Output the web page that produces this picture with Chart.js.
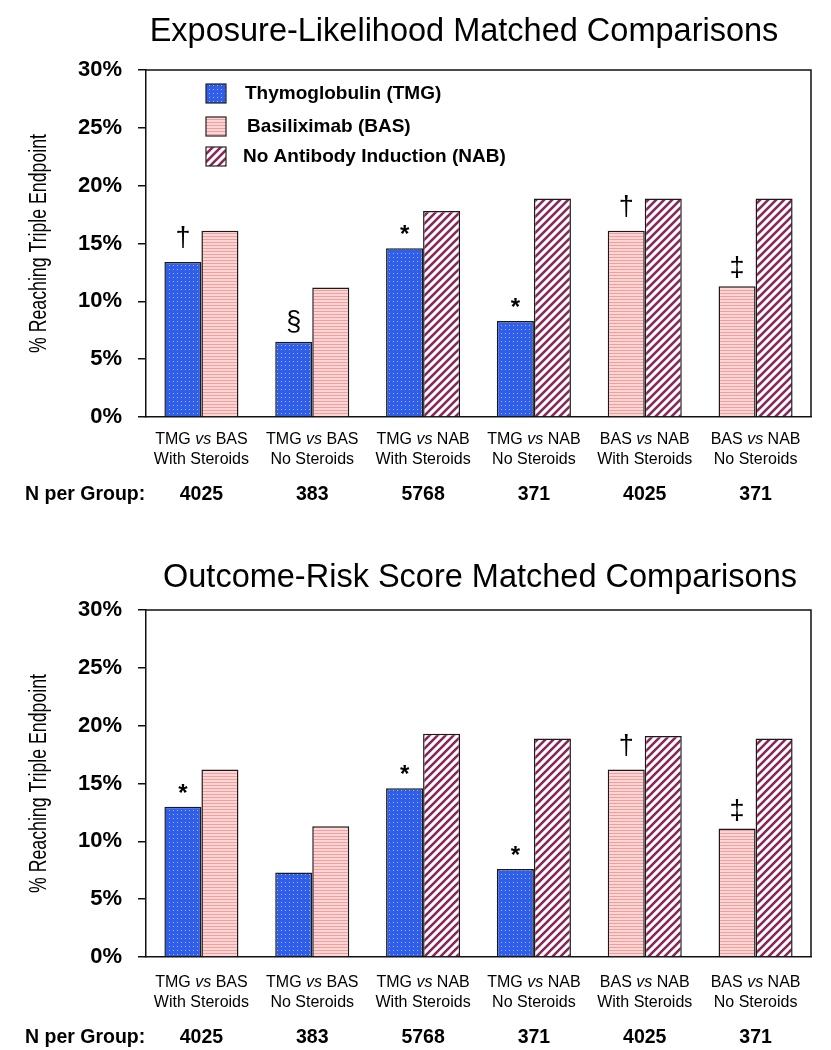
<!DOCTYPE html>
<html>
<head>
<meta charset="utf-8">
<script src="https://cdn.jsdelivr.net/npm/chart.js@4"></script>
<style>
  body { margin: 0; background: #fff; }
  .panel { position: relative; width: 831px; height: 525px; }
</style>
</head>
<body>
<div class="panel"><canvas id="chartTop" width="831" height="525"></canvas></div>
<div class="panel"><canvas id="chartBottom" width="831" height="525"></canvas></div>
<script>
// ---- data ----
const compLeft = ['TMG', 'TMG', 'TMG', 'TMG', 'BAS', 'BAS'];
const compRight = ['BAS', 'BAS', 'NAB', 'NAB', 'NAB', 'NAB'];
const steroidLabels = ['With Steroids', 'No Steroids', 'With Steroids', 'No Steroids', 'With Steroids', 'No Steroids'];
const nPerGroup = ['4025', '383', '5768', '371', '4025', '371'];
const seriesNames = ['Thymoglobulin (TMG)', 'Basiliximab (BAS)', 'No Antibody Induction (NAB)'];
const yTicks = [0, 5, 10, 15, 20, 25, 30];

// Exposure-likelihood matched (% reaching triple endpoint)
const expTMG = [13.4, 6.5, 14.6, 8.3, null, null];
const expBAS = [16.1, 11.2, null, null, 16.1, 11.3];
const expNAB = [null, null, 17.8, 18.9, 18.9, 18.9];
const expMarksTMG = ['\u2020', '\u00a7', '*', '*', '', ''];
const expMarksBAS = ['', '', '', '', '\u2020', '\u2021'];

// Outcome-risk score matched
const outTMG = [13.0, 7.3, 14.6, 7.6, null, null];
const outBAS = [16.2, 11.3, null, null, 16.2, 11.1];
const outNAB = [null, null, 19.3, 18.9, 19.1, 18.9];
const outMarksTMG = ['*', '', '*', '*', '', ''];
const outMarksBAS = ['', '', '', '', '\u2020', '\u2021'];

const FONT = '"Liberation Sans", Arial, sans-serif';

// ---- fill patterns ----
function makePattern(w, h, draw) {
  const c = document.createElement('canvas');
  c.width = w; c.height = h;
  const g = c.getContext('2d');
  draw(g);
  return g.createPattern(c, 'repeat');
}
const dotsBlue = makePattern(4, 4, g => {
  g.fillStyle = '#2f5fe8'; g.fillRect(0, 0, 4, 4);
  g.fillStyle = '#9fb8ff'; g.fillRect(1, 1, 1, 1);
});
const stripesPink = makePattern(4, 3, g => {
  g.fillStyle = '#ffd6d6'; g.fillRect(0, 0, 4, 3);
  g.fillStyle = '#f59c9c'; g.fillRect(0, 2, 4, 1);
});
const hatchMaroon = makePattern(8, 8, g => {
  g.fillStyle = '#ffffff'; g.fillRect(0, 0, 8, 8);
  g.strokeStyle = '#8a2657'; g.lineWidth = 2.6;
  g.beginPath();
  g.moveTo(-2, 10); g.lineTo(10, -2);
  g.moveTo(-2, 2); g.lineTo(2, -2);
  g.moveTo(6, 10); g.lineTo(10, 6);
  g.stroke();
});
const fills = [dotsBlue, stripesPink, hatchMaroon];

// ---- plugins ----
const framePlugin = {
  id: 'frame',
  afterDraw(chart) {
    const { ctx, chartArea: a } = chart;
    ctx.save();
    ctx.strokeStyle = '#111';
    ctx.lineWidth = 1.5;
    ctx.beginPath();
    ctx.moveTo(a.left, a.top); ctx.lineTo(a.right, a.top); ctx.lineTo(a.right, a.bottom);
    ctx.stroke();
    // y axis title, condensed like the original
    ctx.fillStyle = '#000';
    ctx.font = '23px ' + FONT;
    ctx.textAlign = 'center';
    ctx.textBaseline = 'middle';
    ctx.translate(40, (a.top + a.bottom) / 2);
    ctx.rotate(-Math.PI / 2);
    ctx.scale(0.77, 1);
    ctx.fillText('% Reaching Triple Endpoint', 0, 0);
    ctx.restore();
  }
};

const gaps = { '\u2020': 16, '\u2021': 10, '\u00a7': 12, '*': 6 };
const marksPlugin = {
  id: 'marks',
  afterDatasetsDraw(chart, args, opts) {
    const ctx = chart.ctx;
    ctx.save();
    ctx.fillStyle = '#000';
    ctx.textAlign = 'center';
    ctx.textBaseline = 'alphabetic';
    opts.sets.forEach(set => {
      const meta = chart.getDatasetMeta(set.dataset);
      set.marks.forEach((m, i) => {
        if (!m) return;
        const bar = meta.data[i];
        ctx.font = (m === '*' ? 'bold 24px ' : '27px ') + FONT;
        ctx.fillText(m, bar.x, bar.y - gaps[m]);
      });
    });
    ctx.restore();
  }
};

const labelsPlugin = {
  id: 'groupLabels',
  afterDraw(chart, args, opts) {
    const { ctx, chartArea: a } = chart;
    const x = chart.scales.x;
    const base = a.bottom + opts.shift;
    ctx.save();
    ctx.fillStyle = '#000';
    ctx.textBaseline = 'middle';
    // title
    ctx.font = '32.5px ' + FONT;
    ctx.textAlign = 'center';
    ctx.fillText(opts.title, opts.titleX, opts.titleY);
    compLeft.forEach((left, i) => {
      const cx = x.getPixelForValue(i);
      const y1 = base + 23, y2 = base + 43;
      const reg = '16px ' + FONT, ita = 'italic 16px ' + FONT;
      ctx.font = reg;
      const wl = ctx.measureText(left + ' ').width;
      const wr = ctx.measureText(' ' + compRight[i]).width;
      ctx.font = ita;
      const wv = ctx.measureText('vs').width;
      let sx = cx - (wl + wv + wr) / 2;
      ctx.textAlign = 'left';
      ctx.font = reg; ctx.fillText(left + ' ', sx, y1);
      ctx.font = ita; ctx.fillText('vs', sx + wl, y1);
      ctx.font = reg; ctx.fillText(' ' + compRight[i], sx + wl + wv, y1);
      ctx.textAlign = 'center';
      ctx.fillText(steroidLabels[i], cx, y2);
      ctx.font = 'bold 19.5px ' + FONT;
      ctx.fillText(nPerGroup[i], cx, base + 78);
    });
    ctx.textAlign = 'left';
    ctx.font = 'bold 19.5px ' + FONT;
    ctx.fillText('N per Group:', 25, base + 78);
    ctx.restore();
  }
};

const boxLegendPlugin = {
  id: 'boxLegend',
  afterDraw(chart, args, opts) {
    if (!opts.show) return;
    const ctx = chart.ctx;
    ctx.save();
    chart.data.datasets.forEach((ds, k) => {
      const top = opts.rowTops[k];
      ctx.fillStyle = ds.backgroundColor;
      ctx.fillRect(opts.boxX, top, 20, 19);
      ctx.strokeStyle = '#222';
      ctx.lineWidth = 1.2;
      ctx.strokeRect(opts.boxX, top, 20, 19);
      ctx.fillStyle = '#000';
      ctx.font = 'bold 19px ' + FONT;
      ctx.textBaseline = 'middle';
      ctx.textAlign = 'left';
      ctx.fillText(ds.label, opts.textX[k], top + 10);
    });
    ctx.restore();
  }
};

function buildChart(id, tmg, bas, nab, marksTMG, marksBAS, p) {
  const data = {
    labels: compLeft.map((l, i) => l + ' vs ' + compRight[i] + ' ' + steroidLabels[i]),
    datasets: [tmg, bas, nab].map((vals, k) => ({
      label: seriesNames[k],
      data: vals,
      backgroundColor: fills[k],
      borderColor: '#1a1a1a',
      borderWidth: 1.5,
      skipNull: true,
      categoryPercentage: 0.668,
      barPercentage: 1.0
    }))
  };
  return new Chart(document.getElementById(id), {
    type: 'bar',
    data: data,
    options: {
      responsive: false,
      animation: false,
      layout: { padding: { top: p.areaTop, right: 20, left: 0, bottom: 0 } },
      plugins: {
        legend: { display: false },
        tooltip: { enabled: false },
        marks: { sets: [{ dataset: 0, marks: marksTMG }, { dataset: 1, marks: marksBAS }] },
        groupLabels: { title: p.title, titleX: p.titleX, titleY: p.titleY, shift: p.labelShift },
        boxLegend: { show: p.legend, boxX: 206, rowTops: [84, 117, 147], textX: [245, 247, 243] }
      },
      scales: {
        x: {
          ticks: { display: false },
          grid: { display: false },
          border: { display: true, color: '#111', width: 1.5 },
          afterFit: s => { s.height = 525 - p.areaBottom; }
        },
        y: {
          min: 0, max: 30,
          afterBuildTicks: s => { s.ticks = yTicks.map(v => ({ value: v })); },
          ticks: {
            padding: 16,
            color: '#000',
            font: { family: FONT, size: 22, weight: 'bold' },
            callback: v => v + '%'
          },
          grid: { drawOnChartArea: false, drawTicks: true, tickLength: 8, color: '#111', lineWidth: 1.5 },
          border: { display: true, color: '#111', width: 1.5 },
          afterFit: s => { s.width = 146; }
        }
      }
    },
    plugins: [framePlugin, marksPlugin, labelsPlugin, boxLegendPlugin]
  });
}

buildChart('chartTop', expTMG, expBAS, expNAB, expMarksTMG, expMarksBAS,
  { areaTop: 70, areaBottom: 417, title: 'Exposure-Likelihood Matched Comparisons', titleX: 464, titleY: 32, legend: true, labelShift: 0 });
buildChart('chartBottom', outTMG, outBAS, outNAB, outMarksTMG, outMarksBAS,
  { areaTop: 85, areaBottom: 432, title: 'Outcome-Risk Score Matched Comparisons', titleX: 480, titleY: 53, legend: false, labelShift: 3 });
</script>
</body>
</html>
